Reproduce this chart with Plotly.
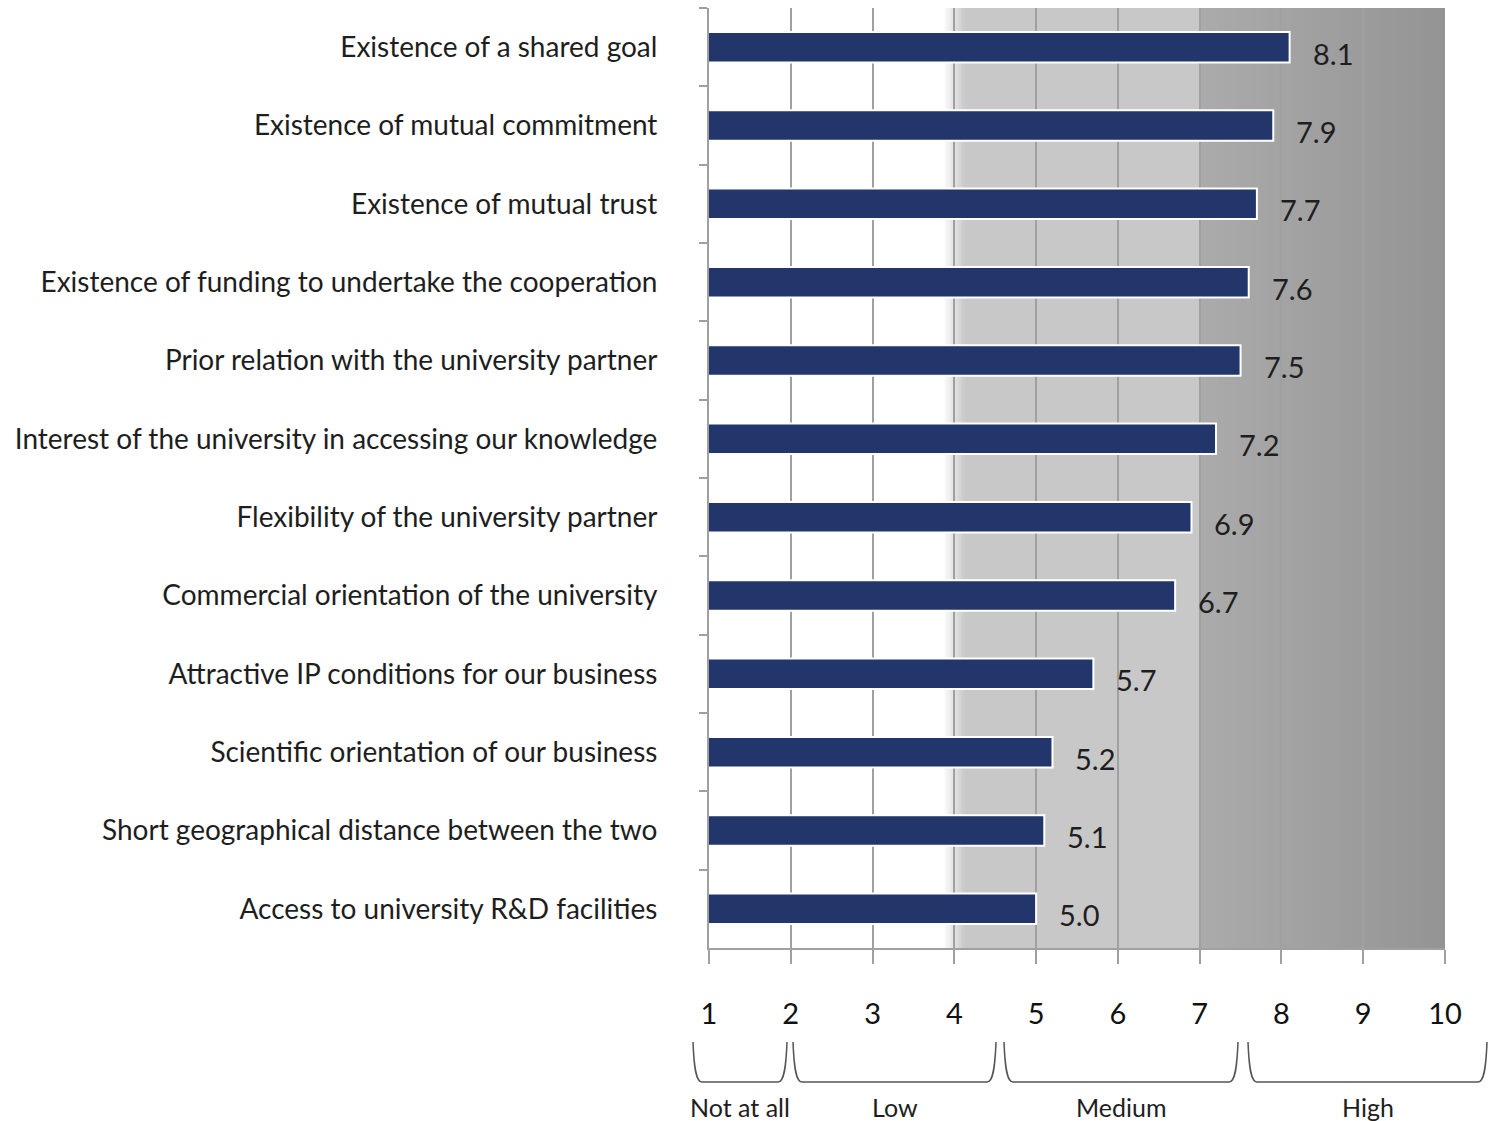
import plotly.graph_objects as go

categories = [
    "Existence of a shared goal",
    "Existence of mutual commitment",
    "Existence of mutual trust",
    "Existence of funding to undertake the cooperation",
    "Prior relation with the university partner",
    "Interest of the university in accessing our knowledge",
    "Flexibility of the university partner",
    "Commercial orientation of the university",
    "Attractive IP conditions for our business",
    "Scientific orientation of our business",
    "Short geographical distance between the two",
    "Access to university R&D facilities",
]
values = [8.1, 7.9, 7.7, 7.6, 7.5, 7.2, 6.9, 6.7, 5.7, 5.2, 5.1, 5.0]
tick_values = [1, 2, 3, 4, 5, 6, 7, 8, 9, 10]
band_labels = ["Not at all", "Low", "Medium", "High"]

# body margin is removed by post_script, so the figure fills the window
W, H = 1497, 1121
PL, PR, PT, PB = 709, 1445, 8, 948  # plot area in page pixels
L, R, T, B = PL, W - PR, PT, H - PB
PW, PH = PR - PL, PB - PT

def px_x(p):
    return (p - PL) / PW

def px_y(p):
    return (PB - p) / PH

FONT = "Lato, 'Open Sans', sans-serif"
TXT = "#1e1e1e"
GRID = "#a0a0a0"

fig = go.Figure()
fig.add_trace(go.Bar(
    x=values, y=categories, orientation="h",
    width=0.39,
    marker=dict(color="#22366c", line=dict(color="white", width=2)),
    hoverinfo="x+y",
))

shapes = []

def lerp(c0, c1, t):
    return int(round(c0 + (c1 - c0) * t))

# soft transition white -> light gray near 4
n = 10
a0, a1 = 3.88, 4.12
for i in range(n):
    xa = a0 + (a1 - a0) * i / n
    xb = a0 + (a1 - a0) * (i + 1) / n
    g = lerp(250, 200, (i + 0.5) / n)
    shapes.append(dict(type="rect", xref="x", yref="paper", x0=xa, x1=xb + 0.005, y0=0, y1=1,
                       fillcolor=f"rgb({g},{g},{g})", line=dict(width=0), layer="below"))
shapes.append(dict(type="rect", xref="x", yref="paper", x0=a1, x1=7, y0=0, y1=1,
                   fillcolor="rgb(200,200,200)", line=dict(width=0), layer="below"))
# darker gradient 7 -> 10
n = 40
for i in range(n):
    xa = 7 + 3 * i / n
    xb = 7 + 3 * (i + 1) / n
    g = lerp(171, 148, (i + 0.5) / n)
    shapes.append(dict(type="rect", xref="x", yref="paper", x0=xa, x1=xb + 0.01, y0=0, y1=1,
                       fillcolor=f"rgb({g},{g},{g})", line=dict(width=0), layer="below"))

# braces below axis (page pixel positions)
brace_spans = [(693, 787), (793, 996), (1004, 1238), (1248, 1487)]
top, bot = 1042, 1082
annotations = []
for (p0, p1), lab in zip(brace_spans, band_labels):
    pts = [
        f"M {px_x(p0)},{px_y(top)}",
        f"C {px_x(p0 + 1)},{px_y(1068)} {px_x(p0 + 3)},{px_y(bot)} {px_x(p0 + 9)},{px_y(bot)}",
        f"L {px_x(p1 - 9)},{px_y(bot)}",
        f"C {px_x(p1 - 3)},{px_y(bot)} {px_x(p1 - 1)},{px_y(1068)} {px_x(p1)},{px_y(top)}",
    ]
    shapes.append(dict(type="path", xref="paper", yref="paper", path=" ".join(pts),
                       line=dict(color="#555555", width=1.5)))
    annotations.append(dict(x=px_x((p0 + p1) / 2), y=px_y(1107), xref="paper", yref="paper",
                            text=lab, showarrow=False, xanchor="center", yanchor="middle",
                            font=dict(family=FONT, size=25, color=TXT)))

for c, v in zip(categories, values):
    annotations.append(dict(x=v, y=c, xref="x", yref="y", text=f"{v:.1f}", showarrow=False,
                            xanchor="left", yanchor="middle", xshift=21, yshift=-6,
                            font=dict(family=FONT, size=29, color=TXT)))

fig.update_layout(
    width=W, height=H,
    margin=dict(l=L, r=R, t=T, b=B, autoexpand=False),
    paper_bgcolor="white", plot_bgcolor="white",
    showlegend=False,
    shapes=shapes,
    annotations=annotations,
    font=dict(family=FONT, color=TXT),
)
fig.update_xaxes(
    range=[1, 10], tickvals=tick_values, ticktext=[str(t) for t in tick_values],
    showgrid=True, gridcolor=GRID, gridwidth=2,
    showline=True, linecolor=GRID, linewidth=2,
    ticks="outside", ticklen=14, tickwidth=2, tickcolor=GRID,
    tickfont=dict(family=FONT, size=29, color="#111111"),
    ticklabelstandoff=25, zeroline=False, fixedrange=True,
)
fig.update_yaxes(
    categoryorder="array", categoryarray=categories, autorange="reversed",
    showgrid=False, showline=True, linecolor=GRID, linewidth=2,
    ticks="outside", tickson="boundaries", ticklen=8, tickwidth=2, tickcolor=GRID,
    tickfont=dict(family=FONT, size=28, color=TXT),
    ticklabelstandoff=44, zeroline=False, fixedrange=True,
)

fig.write_html(
    "out.html",
    config={"displayModeBar": False},
    post_script="document.body.style.margin='0';document.body.style.overflow='hidden';",
)
